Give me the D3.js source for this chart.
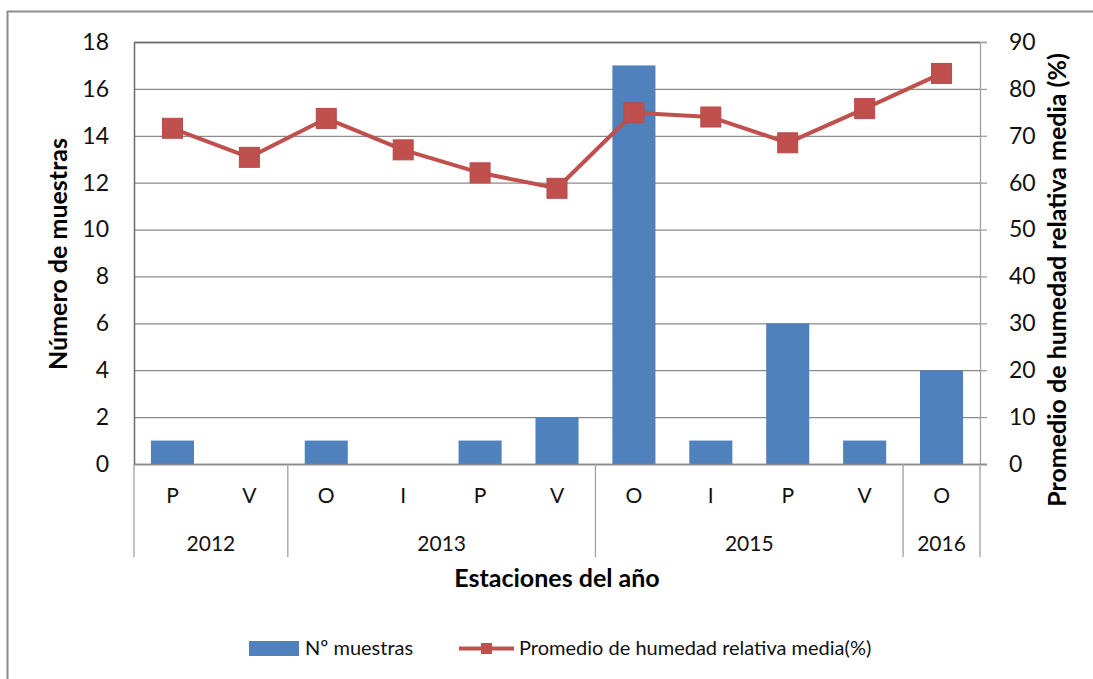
<!DOCTYPE html>
<html><head><meta charset="utf-8">
<script src="https://cdn.jsdelivr.net/npm/d3@7"></script>
<style>body{margin:0;background:#fff;} svg{display:block;font-family:Lato,"Open Sans",sans-serif;}</style>
</head><body>
<svg id="c" width="1093" height="679"></svg>
<script>
const seasons = ["P","V","O","I","P","V","O","I","P","V","O"];
const years = [{label:"2012",start:0,end:2},{label:"2013",start:2,end:6},{label:"2015",start:6,end:10},{label:"2016",start:10,end:11}];
const muestras = [1,0,1,0,1,2,17,1,6,1,4];
const humedad = [71.6,65.4,73.7,67.0,62.1,58.8,74.9,74.0,68.5,75.8,83.3];
const leftTicks = [0,2,4,6,8,10,12,14,16,18];
const rightTicks = [0,10,20,30,40,50,60,70,80,90];

const svg = d3.select("#c");
const L=134,R=980,T=42,B=464;
svg.append("rect").attr("x",7.5).attr("y",11.5).attr("width",1200).attr("height",1000).attr("fill","none").attr("stroke","#8c8c8c").attr("stroke-width",2);

const x = d3.scaleBand().domain(d3.range(seasons.length)).range([L,R]).paddingInner(0.44).paddingOuter(0.22);
const xs = d3.scaleLinear().domain([0,seasons.length]).range([L,R]);
const yL = d3.scaleLinear().domain([0,18]).range([B,T]);
const yR = d3.scaleLinear().domain([0,90]).range([B,T]);

// gridlines
svg.append("g").selectAll("line").data(leftTicks).join("line")
  .attr("x1",L).attr("x2",R).attr("y1",d=>yL(d)+0.5).attr("y2",d=>yL(d)+0.5)
  .attr("stroke","#8a8a8a").attr("stroke-width",1.3);
svg.append("line").attr("x1",L).attr("x2",R).attr("y1",T+0.5).attr("y2",T+0.5).attr("stroke","#6a6a6a").attr("stroke-width",1.5);

// bars
svg.append("g").selectAll("rect").data(muestras).join("rect")
  .attr("x",(d,i)=>x(i)).attr("width",x.bandwidth())
  .attr("y",d=>yL(d)).attr("height",d=>B-yL(d)).attr("fill","#4F81BD");

// left axis
const gl = svg.append("g").attr("transform",`translate(${L},0)`)
  .call(d3.axisLeft(yL).tickValues(leftTicks).tickSize(0).tickPadding(25));
gl.select(".domain").attr("stroke","#6a6a6a").attr("stroke-width",1.5);
gl.selectAll("text").attr("font-size",23).attr("fill","#111").attr("font-family","Lato");
// right axis
const gr = svg.append("g").attr("transform",`translate(${R},0)`)
  .call(d3.axisRight(yR).tickValues(rightTicks).tickSize(7).tickPadding(22));
gr.select(".domain").attr("stroke","#a0a0a0").attr("stroke-width",1.3);
gr.selectAll(".tick line").attr("stroke","#a0a0a0").attr("stroke-width",1.3);
gr.selectAll("text").attr("font-size",23).attr("fill","#111").attr("font-family","Lato");

// bottom axis line
svg.append("line").attr("x1",L).attr("x2",R+7).attr("y1",B+0.5).attr("y2",B+0.5).attr("stroke","#8a8a8a").attr("stroke-width",1.3);

// category labels
svg.append("g").selectAll("text").data(seasons).join("text")
  .attr("x",(d,i)=>x(i)+x.bandwidth()/2).attr("y",503).attr("text-anchor","middle")
  .attr("font-size",21).attr("fill","#111").text(d=>d);
// year separators
const seps = [0].concat(years.map(y=>y.end));
svg.append("g").selectAll("line").data(seps).join("line")
  .attr("x1",d=>xs(d)).attr("x2",d=>xs(d)).attr("y1",B).attr("y2",557)
  .attr("stroke","#a0a0a0").attr("stroke-width",1.3);
svg.append("g").selectAll("text").data(years).join("text")
  .attr("x",d=>(xs(d.start)+xs(d.end))/2).attr("y",551).attr("text-anchor","middle")
  .attr("font-size",21).attr("fill","#111").text(d=>d.label);

// line
const line = d3.line().x((d,i)=>x(i)+x.bandwidth()/2).y(d=>yR(d));
svg.append("path").datum(humedad).attr("d",line).attr("fill","none").attr("stroke","#C0504D").attr("stroke-width",4).attr("stroke-linejoin","round");
svg.append("g").selectAll("rect").data(humedad).join("rect")
  .attr("x",(d,i)=>x(i)+x.bandwidth()/2-10).attr("y",d=>yR(d)-10).attr("width",20).attr("height",20)
  .attr("fill","#C0504D").attr("stroke","#b84a47").attr("stroke-width",1);

// axis titles
svg.append("text").attr("transform","translate(67,254) rotate(-90)").attr("text-anchor","middle")
  .attr("font-size",25).attr("font-weight","bold").attr("fill","#000").text("Número de muestras");
svg.append("text").attr("transform","translate(1066,280) rotate(-90)").attr("text-anchor","middle")
  .attr("font-size",25).attr("font-weight","bold").attr("fill","#000").text("Promedio de humedad relativa media (%)");
svg.append("text").attr("x",557).attr("y",587).attr("text-anchor","middle")
  .attr("font-size",25).attr("font-weight","bold").attr("fill","#000").text("Estaciones del año");

// legend
const lg = svg.append("g");
lg.append("rect").attr("x",249).attr("y",641).attr("width",50).attr("height",15).attr("fill","#4F81BD");
lg.append("text").attr("x",305).attr("y",655).attr("font-size",20).attr("fill","#111").text("Nº muestras");
lg.append("line").attr("x1",459).attr("x2",514).attr("y1",648.5).attr("y2",648.5).attr("stroke","#C0504D").attr("stroke-width",4);
lg.append("rect").attr("x",481).attr("y",643).attr("width",11).attr("height",11).attr("fill","#C0504D");
lg.append("text").attr("x",519).attr("y",655).attr("font-size",20).attr("fill","#111").text("Promedio de humedad relativa media(%)");
</script>
</body></html>
